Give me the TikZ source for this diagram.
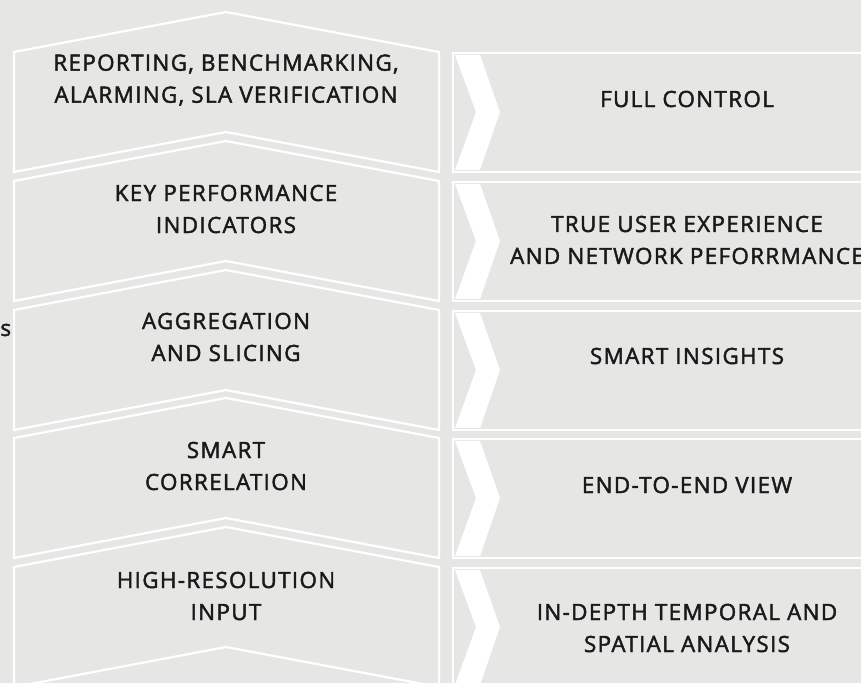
\documentclass[tikz,border=0pt]{standalone}
\usepackage{fontspec}
\setmainfont{Open Sans}
\newfontfamily\lblfont{Open Sans}[FakeBold=2,LetterSpace=6]
\usepackage{tikz}
\definecolor{bgGray}{HTML}{E6E6E5}
\definecolor{txtBlack}{HTML}{1A1A1A}
\tikzset{
  layer/.style={fill=bgGray,draw=white,line width=1.1pt,line join=miter},
  benefit/.style={fill=bgGray,draw=white,line width=1.3pt},
  chev/.style={fill=white,draw=none},
  lbl/.style={align=center,text=txtBlack,font=\lblfont\fontsize{11.2}{16}\selectfont,inner sep=0pt}
}
\begin{document}
\begin{tikzpicture}[x=0.5pt,y=-0.5pt]

\useasboundingbox (0,0) rectangle (861,683);
\fill[bgGray] (0,0) rectangle (861,683);
\clip (0,0) rectangle (861,683);

% left stack 
\draw[layer] (14,52) -- (226,12) -- (439,52) -- (439,172) -- (226,132) -- (14,172) -- cycle;
\draw[layer] (14,181) -- (226,141) -- (439,181) -- (439,301) -- (226,261) -- (14,301) -- cycle;
\draw[layer] (14,310) -- (226,270) -- (439,310) -- (439,430) -- (226,390) -- (14,430) -- cycle;
\draw[layer] (14,438) -- (226,398) -- (439,438) -- (439,558) -- (226,518) -- (14,558) -- cycle;
\draw[layer] (14,567) -- (226,527) -- (439,567) -- (439,687) -- (226,647) -- (14,687) -- cycle;

% right boxes
\draw[benefit] (453,53) rectangle (875,172);
\draw[benefit] (453,182) rectangle (875,301);
\draw[benefit] (453,311) rectangle (875,430);
\draw[benefit] (453,439) rectangle (875,558);
\draw[benefit] (453,568) rectangle (875,690);

% chevrons
\fill[chev] (455,55) -- (480,55) -- (500,112) -- (480,170) -- (455,170) -- (476,112) -- cycle;
\fill[chev] (455,184) -- (480,184) -- (500,241) -- (480,299) -- (455,299) -- (476,241) -- cycle;
\fill[chev] (455,313) -- (480,313) -- (500,370) -- (480,428) -- (455,428) -- (476,370) -- cycle;
\fill[chev] (455,441) -- (480,441) -- (500,498) -- (480,556) -- (455,556) -- (476,498) -- cycle;
\fill[chev] (455,570) -- (480,570) -- (500,627) -- (480,685) -- (455,685) -- (476,627) -- cycle;

% layer labels
\node[lbl] (report_lbl) at (226,80) {REPORTING, BENCHMARKING,\\ALARMING, SLA VERIFICATION};
\node[lbl] (kpi_lbl) at (226,209) {KEY PERFORMANCE\\INDICATORS};
\node[lbl] (aggr_lbl) at (226,337) {AGGREGATION\\AND SLICING};
\node[lbl] (corr_lbl) at (226,466) {SMART\\CORRELATION};
\node[lbl] (input_lbl) at (226,596) {HIGH-RESOLUTION\\INPUT};

% benefit labels
\node[lbl] (control_lbl) at (687,99) {FULL CONTROL};
\node[lbl] (ux_lbl) at (687,240) {TRUE USER EXPERIENCE\\AND NETWORK PEFORRMANCE};
\node[lbl] (insight_lbl) at (687,356) {SMART INSIGHTS};
\node[lbl] (e2e_lbl) at (687,485) {END-TO-END VIEW};
\node[lbl] (depth_lbl) at (687,628) {IN-DEPTH TEMPORAL AND\\SPATIAL ANALYSIS};

% cut-off label at the left
\node[lbl,anchor=west] (side_lbl) at (0,330) {s};
\end{tikzpicture}
\end{document}
